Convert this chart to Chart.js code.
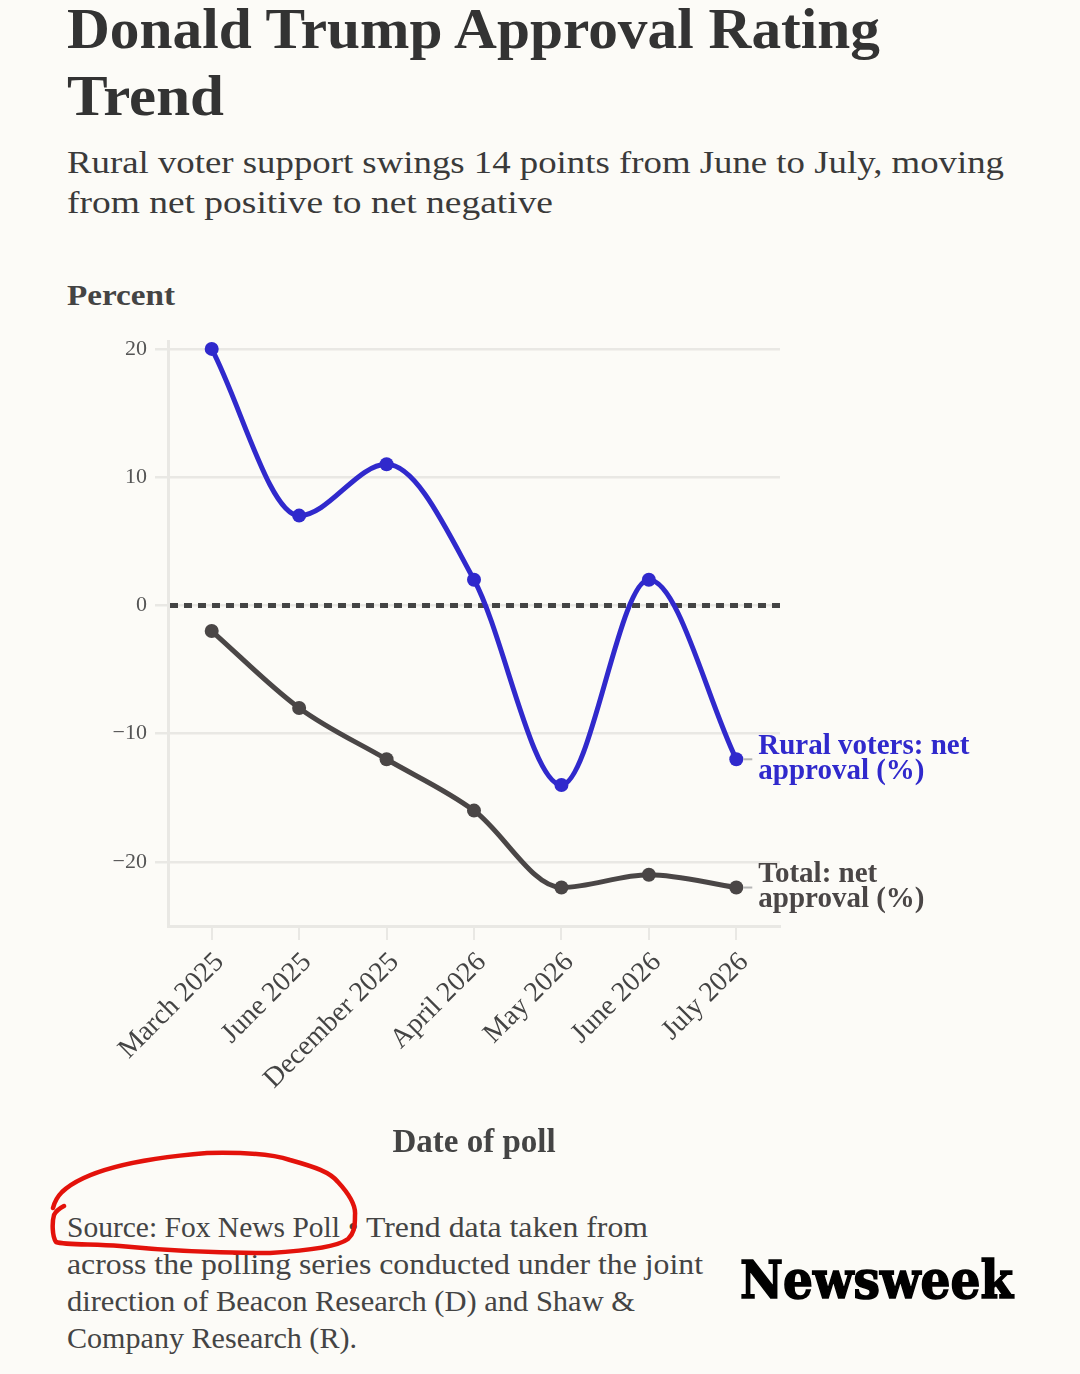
<!DOCTYPE html>
<html>
<head>
<meta charset="utf-8">
<script src="https://cdn.jsdelivr.net/npm/chart.js@4/dist/chart.umd.min.js"></script>
<style>
  html, body { margin:0; padding:0; background:#fcfbf7; }
  body { width:1080px; height:1374px; position:relative; overflow:hidden; font-family:"Liberation Serif", "DejaVu Serif", serif; }
  .t { position:absolute; left:67px; white-space:nowrap; line-height:1.107; transform-origin:0 0; display:inline-block; }
  .title { font-size:57px; font-weight:bold; color:#333; }
  .sub { font-size:32px; color:#3a3a3a; }
  .ylab { font-size:30px; font-weight:bold; color:#444; }
  .foot { font-size:30px; color:#444; }
  .logo { font-family:"DejaVu Serif", serif; font-weight:bold; font-size:53px; color:#000; left:740px; -webkit-text-stroke:1.6px #000; }
  #c { position:absolute; left:0; top:320px; }
  #ring { position:absolute; left:0; top:0; pointer-events:none; }
</style>
</head>
<body>
<div class="t title" data-b="48" data-w="813">Donald Trump Approval Rating</div>
<div class="t title" data-b="115" data-w="157">Trend</div>
<div class="t sub" data-b="174" data-w="937">Rural voter support swings 14 points from June to July, moving</div>
<div class="t sub" data-b="214" data-w="486">from net positive to net negative</div>
<div class="t ylab" data-b="305" data-w="108">Percent</div>

<canvas id="c" width="1080" height="850"></canvas>

<div class="t foot" data-b="1237" data-w="273">Source: Fox News Poll</div>
<div class="t foot" data-b="1237" style="left:348px">•</div>
<div class="t foot" data-b="1237" data-w="282" style="left:366px">Trend data taken from</div>
<div class="t foot" data-b="1274" data-w="636">across the polling series conducted under the joint</div>
<div class="t foot" data-b="1311" data-w="568">direction of Beacon Research (D) and Shaw &amp;</div>
<div class="t foot" data-b="1348" data-w="290">Company Research (R).</div>
<div class="t logo" data-b="1297" data-w="273">Newsweek</div>

<svg id="ring" width="1080" height="1374">
  <path d="M53,1208 C55,1200 58,1196 62,1192 C80,1175 120,1160 207,1153 C250,1152 275,1155 290,1160 C315,1167 330,1172 338,1182 C350,1195 356,1205 355,1215 C355,1228 354,1233 348,1239 C340,1245 320,1250 270,1253 C200,1253 150,1249 120,1246 C90,1244 65,1245 56,1242 C52,1236 52,1222 54,1215 C56,1211 60,1208 64,1206"
        fill="none" stroke="#e3120b" stroke-width="4.5" stroke-linecap="round" stroke-linejoin="round"/>
</svg>

<script>
// ---- data ----
const categories = ["March 2025", "June 2025", "December 2025", "April 2026", "May 2026", "June 2026", "July 2026"];
const ruralValues = [20, 7, 11, 2, -14, 2, -12];
const totalValues = [-2, -8, -12, -16, -22, -21, -22];
const yTickValues = [-20, -10, 0, 10, 20];
const seriesNames = [["Rural voters: net", "approval (%)"], ["Total: net", "approval (%)"]];
const seriesColors = ["#3029cc", "#4a4646"];

// ---- text fitting ----
document.querySelectorAll('.t').forEach(el => {
  const fs = parseFloat(getComputedStyle(el).fontSize);
  const b = parseFloat(el.dataset.b);
  el.style.top = (b - 0.891 * fs) + 'px';
  const w = el.getBoundingClientRect().width;
  const tw = parseFloat(el.dataset.w);
  if (w > 0 && tw) el.style.transform = 'scaleX(' + (tw / w) + ')';
});

const grid = '#e9e8e4';
const zeroLine = {
  id: 'zeroLine',
  beforeDatasetsDraw(chart) {
    const {ctx, chartArea, scales} = chart;
    const y = scales.y.getPixelForValue(0);
    ctx.save();
    ctx.strokeStyle = '#444';
    ctx.lineWidth = 5;
    ctx.setLineDash([8, 6]);
    ctx.beginPath();
    ctx.moveTo(chartArea.left + 2, y);
    ctx.lineTo(chartArea.right, y);
    ctx.stroke();
    ctx.restore();
  }
};
const endLabels = {
  id: 'endLabels',
  afterDatasetsDraw(chart) {
    const {ctx} = chart;
    chart.data.datasets.forEach((ds, i) => {
      const meta = chart.getDatasetMeta(i);
      const pt = meta.data[meta.data.length - 1];
      ctx.save();
      ctx.strokeStyle = '#b5b5b5';
      ctx.lineWidth = 2;
      ctx.beginPath();
      ctx.moveTo(pt.x + 7, pt.y);
      ctx.lineTo(pt.x + 16, pt.y);
      ctx.stroke();
      ctx.fillStyle = seriesColors[i];
      ctx.font = 'bold 29px "Liberation Serif", serif';
      ctx.textBaseline = 'middle';
      ctx.textAlign = 'left';
      const lines = seriesNames[i];
      ctx.fillText(lines[0], pt.x + 22, pt.y - 13);
      ctx.fillText(lines[1], pt.x + 22, pt.y + 12);
      ctx.restore();
    });
  }
};

new Chart(document.getElementById('c'), {
  type: 'line',
  data: {
    labels: categories,
    datasets: [
      { data: ruralValues, borderColor: seriesColors[0], backgroundColor: seriesColors[0] },
      { data: totalValues, borderColor: seriesColors[1], backgroundColor: seriesColors[1] }
    ]
  },
  options: {
    responsive: false,
    animation: false,
    devicePixelRatio: 1,
    layout: { padding: { left: 0, right: 300, top: 20, bottom: 0 } },
    elements: {
      line: { borderWidth: 5, cubicInterpolationMode: 'monotone', fill: false },
      point: { radius: 7, borderWidth: 0, hoverRadius: 7 }
    },
    clip: false,
    plugins: { legend: { display: false }, tooltip: { enabled: false } },
    scales: {
      x: {
        type: 'category',
        offset: true,
        grid: { drawOnChartArea: false, drawTicks: true, tickLength: 14, color: grid, lineWidth: 2 },
        border: { display: true, color: grid, width: 3 },
        ticks: { autoSkip: false, minRotation: 45, maxRotation: 45, padding: 6, labelOffset: 8, color: '#444',
                 font: { family: '"Liberation Serif", serif', size: 28 } },
        title: { display: true, text: 'Date of poll', color: '#444',
                 font: { family: '"Liberation Serif", serif', size: 33, weight: 'bold' },
                 padding: { top: 0, bottom: 7 } },
        afterFit(s) { s.height = 244; }
      },
      y: {
        min: -25,
        max: 20.6,
        afterBuildTicks(s) { s.ticks = yTickValues.map(v => ({ value: v })); },
        grid: { color: grid, lineWidth: 2.5, tickLength: 13, drawTicks: true },
        border: { display: true, color: grid, width: 3 },
        ticks: { padding: 8, color: '#555', font: { family: '"Liberation Serif", serif', size: 22 },
                 callback: v => String(v).replace('-', '\u2212') },
        afterFit(s) { s.width = 168; }
      }
    }
  },
  plugins: [zeroLine, endLabels]
});
</script>
</body>
</html>
